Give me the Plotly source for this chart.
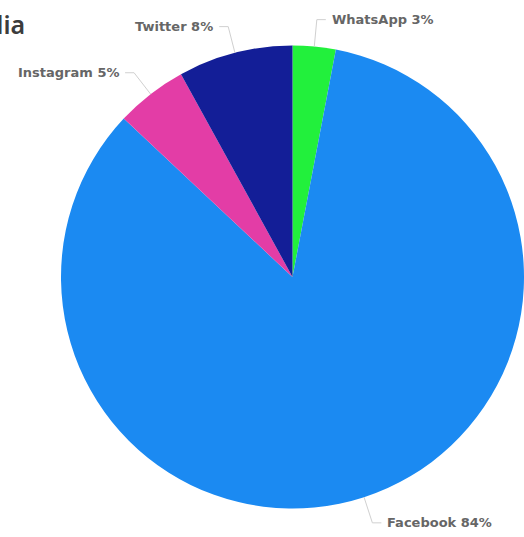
import math
import plotly.graph_objects as go

# ---- data ----
labels = ["WhatsApp", "Facebook", "Instagram", "Twitter"]
values = [3, 84, 5, 8]
colors = ["#22F03C", "#1B8AF2", "#E33DA6", "#131E97"]
title_text = "Social Media"

# ---- layout geometry (pixels) ----
W, H = 524, 537
ML, MR, MT, MB = 0, 0, 45, 28
plotW, plotH = W - ML - MR, H - MT - MB
dom_x = [61 / plotW, 1.0]
dom_y = [0.0, 1.0]

dx_px = (dom_x[1] - dom_x[0]) * plotW
dy_px = (dom_y[1] - dom_y[0]) * plotH
R = min(dx_px, dy_px) / 2
CX = ML + (dom_x[0] + dom_x[1]) / 2 * plotW
CY = MT + (1 - (dom_y[0] + dom_y[1]) / 2) * plotH


def to_paper(px, py):
    return (px - ML) / plotW, 1 - (py - MT) / plotH


fig = go.Figure()
fig.add_trace(go.Pie(
    labels=labels,
    values=values,
    sort=False,
    direction="clockwise",
    rotation=0,
    marker=dict(colors=colors, line=dict(width=0)),
    textinfo="none",
    hoverinfo="label+percent",
    showlegend=False,
    domain=dict(x=dom_x, y=dom_y),
))

total = sum(values)
cum = 0
shapes = []
annotations = []
for lab, v in zip(labels, values):
    mid = (cum + v / 2) / total * 2 * math.pi
    cum += v
    sx, sy = math.sin(mid), -math.cos(mid)
    p0 = (CX + R * sx, CY + R * sy)
    p1 = (CX + (R + 27) * sx, CY + (R + 27) * sy)
    side = 1 if sx >= 0 else -1
    p2 = (p1[0] + side * 9, p1[1])
    pct = round(v / total * 100)
    for a, b in ((p0, p1), (p1, p2)):
        x0, y0 = to_paper(*a)
        x1, y1 = to_paper(*b)
        shapes.append(dict(type="line", xref="paper", yref="paper",
                           x0=x0, y0=y0, x1=x1, y1=y1,
                           line=dict(color="#D0D0D0", width=1)))
    tx, ty = to_paper(p2[0] + side * 4, p2[1])
    annotations.append(dict(
        x=tx, y=ty, xref="paper", yref="paper", showarrow=False,
        text=f"<b>{lab} {pct}%</b>",
        xanchor="left" if side > 0 else "right", yanchor="middle",
        font=dict(family="DejaVu Sans", size=13, color="#666666"),
    ))

# title (partially cut off at left edge, as in the reference)
tx, ty = to_paper(27, 24)
annotations.append(dict(
    x=tx, y=ty, xref="paper", yref="paper", showarrow=False,
    text=title_text, xanchor="right", yanchor="middle",
    font=dict(family="Noto Sans", size=25, color="#3C3C3C", weight=600),
))

fig.update_layout(
    width=W, height=H,
    margin=dict(l=ML, r=MR, t=MT, b=MB),
    paper_bgcolor="white",
    plot_bgcolor="white",
    shapes=shapes,
    annotations=annotations,
)

fig.write_html("out.html", config={"displayModeBar": False},
               post_script="document.body.style.margin='0px';")
